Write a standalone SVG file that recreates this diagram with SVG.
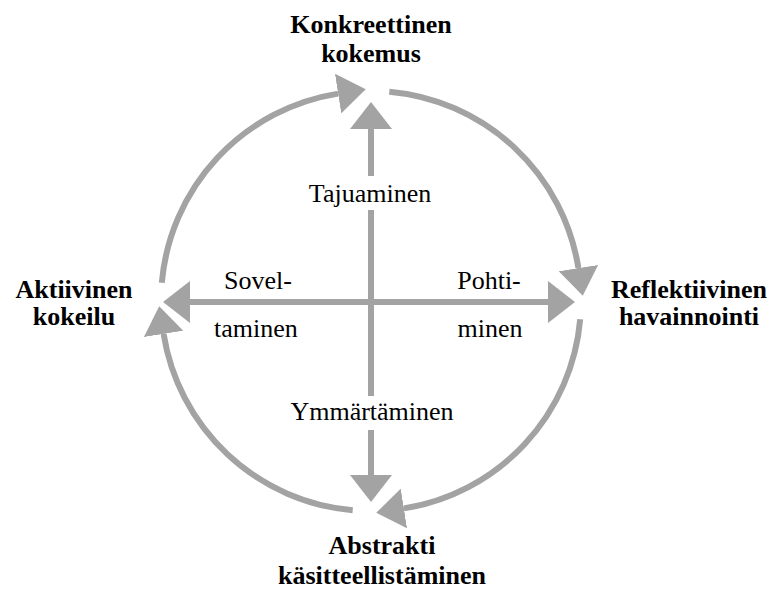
<svg xmlns="http://www.w3.org/2000/svg" width="770" height="590" viewBox="0 0 770 590">
  <style>
    .conn { fill: none; stroke: #a3a3a3; stroke-width: 6; }
    .head { fill: #a3a3a3; }
    .title { font-family: "Liberation Serif", "Times New Roman", serif; font-weight: bold; font-size: 26px; fill: #000; text-anchor: middle; }
    .label { font-family: "Liberation Serif", "Times New Roman", serif; font-size: 26px; fill: #000; text-anchor: middle; }
  </style>
  <defs>
    <marker id="arcHead" markerUnits="userSpaceOnUse" viewBox="0 -20 28 40" markerWidth="28" markerHeight="40" refX="0" refY="0" orient="auto">
      <path class="head" d="M0,-20 L28,0 L0,20 Z"/>
    </marker>
    <marker id="lineHead" markerUnits="userSpaceOnUse" viewBox="0 -21 27 42" markerWidth="27" markerHeight="42" refX="0" refY="0" orient="auto-start-reverse">
      <path class="head" d="M0,-21 L27,0 L0,21 Z"/>
    </marker>
  </defs>
  <rect width="770" height="590" fill="#fff"/>

  <g id="connectors">
    <path id="arc-left-top" class="conn" d="M161.8,282.7 A210,210 0 0 1 338.1,93.6" marker-end="url(#arcHead)"/>
    <path id="arc-top-right" class="conn" d="M389.3,91.8 A210,210 0 0 1 578.4,268.1" marker-end="url(#arcHead)"/>
    <path id="arc-right-bottom" class="conn" d="M580.2,319.3 A210,210 0 0 1 403.9,508.4" marker-end="url(#arcHead)"/>
    <path id="arc-bottom-left" class="conn" d="M352.7,510.2 A210,210 0 0 1 163.6,333.9" marker-end="url(#arcHead)"/>
    <path id="axis-vertical" class="conn" d="M371,475 V430 M371,396 V210 M371,176 V129" marker-start="url(#lineHead)" marker-end="url(#lineHead)"/>
    <path id="axis-horizontal" class="conn" d="M190,302 H548" marker-start="url(#lineHead)" marker-end="url(#lineHead)"/>
  </g>

  <g id="node-konkreettinen">
    <text class="title" x="371" y="33">Konkreettinen</text>
    <text class="title" x="371" y="62">kokemus</text>
  </g>
  <g id="node-reflektiivinen">
    <text class="title" x="689" y="298">Reflektiivinen</text>
    <text class="title" x="689" y="325">havainnointi</text>
  </g>
  <g id="node-abstrakti">
    <text class="title" x="382" y="554">Abstrakti</text>
    <text class="title" x="382" y="584">käsitteellistäminen</text>
  </g>
  <g id="node-aktiivinen">
    <text class="title" x="74" y="298">Aktiivinen</text>
    <text class="title" x="74" y="325">kokeilu</text>
  </g>

  <g id="labels">
    <text class="label" x="370" y="202">Tajuaminen</text>
    <text class="label" x="372" y="420">Ymmärtäminen</text>
    <text class="label" x="258" y="289">Sovel-</text>
    <text class="label" x="256" y="337">taminen</text>
    <text class="label" x="489" y="289">Pohti-</text>
    <text class="label" x="490" y="337">minen</text>
  </g>
</svg>
